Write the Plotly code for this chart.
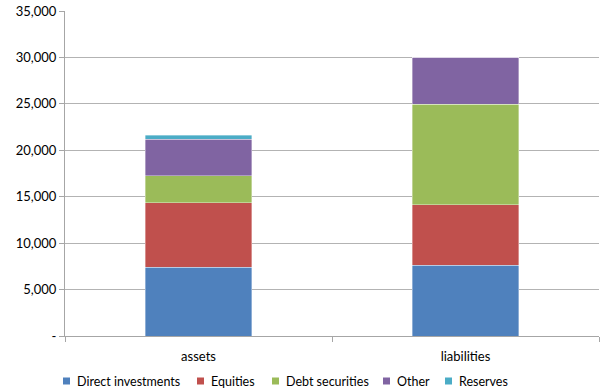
import plotly.graph_objects as go

categories = ["assets", "liabilities"]
series_names = ["Direct investments", "Equities", "Debt securities", "Other", "Reserves"]
direct_investments = [7420, 7600]
equities = [6950, 6515]
debt_securities = [2900, 10855]
other = [3940, 5060]
reserves = [400, 0]
tick_values = [0, 5000, 10000, 15000, 20000, 25000, 30000, 35000]
tick_labels = ["-", "5,000", "10,000", "15,000", "20,000", "25,000", "30,000", "35,000"]

colors = ["#4F81BD", "#C0504D", "#9BBB59", "#8064A2", "#4BACC6"]
values = [direct_investments, equities, debt_securities, other, reserves]

W, H = 606, 392
ML, MR, MT, MB = 65, 7, 11, 56
PW, PH = W - ML - MR, H - MT - MB

fig = go.Figure()
for name, vals, col in zip(series_names, values, colors):
    fig.add_trace(go.Bar(x=categories, y=vals, name=name, showlegend=False,
                         marker=dict(color=col, line=dict(width=0.6, color="rgba(255,255,255,0.6)"))))

# Custom legend (square swatch + label), laid out like the reference
legend_left_px = [63, 197, 272, 383, 445]
legend_y_px = 381
sw = 7
shapes = []
annotations = []
for name, col, lx in zip(series_names, colors, legend_left_px):
    x0 = (lx - ML) / PW
    x1 = (lx + sw - ML) / PW
    yc = (MT + PH - legend_y_px) / PH
    hh = (sw / 2) / PH
    shapes.append(dict(type="rect", xref="paper", yref="paper", x0=x0, x1=x1,
                       y0=yc - hh, y1=yc + hh, fillcolor=col, line=dict(width=0)))
    annotations.append(dict(xref="paper", yref="paper", x=(lx + sw + 5 - ML) / PW, y=yc,
                            xanchor="left", yanchor="middle", text=name, showarrow=False,
                            font=dict(size=12.5, color="#000000")))

fig.update_layout(
    barmode="stack",
    bargap=0.6,
    width=W, height=H,
    margin=dict(l=ML, r=MR, t=MT, b=MB, autoexpand=False),
    paper_bgcolor="white", plot_bgcolor="white",
    font=dict(family="Lato, Open Sans, sans-serif", size=13, color="#000000"),
    shapes=shapes,
    annotations=annotations,
    xaxis=dict(showline=True, linecolor="#A6A6A6", linewidth=1, ticks="outside",
               tickson="boundaries", ticklen=5, tickcolor="#A6A6A6", showgrid=False,
               tickfont=dict(size=13), ticklabelstandoff=8),
    yaxis=dict(range=[0, 35000], tickvals=tick_values, ticktext=tick_labels,
               showline=True, linecolor="#A6A6A6", linewidth=1, ticks="outside",
               ticklen=5, tickcolor="#A6A6A6", showgrid=True, gridcolor="#B3B3B3",
               gridwidth=1, zeroline=False, tickfont=dict(size=13)),
)

fig.write_html("out.html", config={"displayModeBar": False},
               post_script="document.body.style.margin='0';document.body.style.padding='0';")
